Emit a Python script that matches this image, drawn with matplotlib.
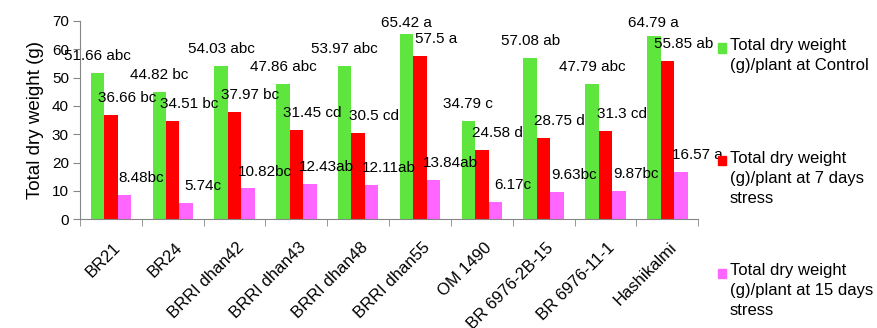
import numpy as np
import matplotlib
matplotlib.use("Agg")
import matplotlib.pyplot as plt
from matplotlib.patches import Rectangle

plt.rcParams['font.family'] = ['Liberation Sans', 'DejaVu Sans']

# data
cultivars = ['BR21', 'BR24', 'BRRI dhan42', 'BRRI dhan43', 'BRRI dhan48',
             'BRRI dhan55', 'OM 1490', 'BR 6976-2B-15', 'BR 6976-11-1', 'Hashikalmi']
control = [51.66, 44.82, 54.03, 47.86, 53.97, 65.42, 34.79, 57.08, 47.79, 64.79]
stress7 = [36.66, 34.51, 37.97, 31.45, 30.5, 57.5, 24.58, 28.75, 31.3, 55.85]
stress15 = [8.48, 5.74, 10.82, 12.43, 12.11, 13.84, 6.17, 9.63, 9.87, 16.57]
control_lab = ['51.66 abc', '44.82 bc', '54.03 abc', '47.86 abc', '53.97 abc',
               '65.42 a', '34.79 c', '57.08 ab', '47.79 abc', '64.79 a']
stress7_lab = ['36.66 bc', '34.51 bc', '37.97 bc', '31.45 cd', '30.5 cd',
               '57.5 a', '24.58 d', '28.75 d', '31.3 cd', '55.85 ab']
stress15_lab = ['8.48bc', '5.74c', '10.82bc', '12.43ab', '12.11ab',
                '13.84ab', '6.17c', '9.63bc', '9.87bc', '16.57 a']
legend_labels = ['Total dry weight\n(g)/plant at Control',
                 'Total dry weight\n(g)/plant at 7 days\nstress',
                 'Total dry weight\n(g)/plant at 15 days\nstress']

colors = ['#5EE63E', '#FF0000', '#FF66FF']
axis_col = '#868686'

fig = plt.figure(figsize=(8.77, 3.28), dpi=100)
ax = fig.add_axes([0.0912, 0.332, 0.705, 0.604])

x = np.arange(len(cultivars))
w = 0.218
series = [control, stress7, stress15]
labels = [control_lab, stress7_lab, stress15_lab]
xshift = [0, 16, 17]  # pixel shift of the data labels

for i, (vals, labs) in enumerate(zip(series, labels)):
    pos = x + (i - 1) * w
    ax.bar(pos, vals, w, color=colors[i], zorder=2)
    for px, v, t in zip(pos, vals, labs):
        ylab = min(v + 6.0, 69.3)
        ax.annotate(t, (px, ylab), xytext=(xshift[i], 0), textcoords='offset pixels',
                    ha='center', va='center', fontsize=11, color='black',
                    annotation_clip=False, zorder=3)

ax.set_xlim(-0.5, len(cultivars) - 0.5)
ax.set_ylim(0, 70)
ax.set_yticks(np.arange(0, 71, 10))
ax.set_xticks(x + 0.03)
ax.set_xticklabels(cultivars, rotation=45, ha='right', va='top',
                   rotation_mode='anchor', fontsize=12)
ax.set_xticks(np.arange(-0.5, len(cultivars), 1), minor=True)
ax.tick_params(axis='x', which='major', length=0, pad=15)
ax.tick_params(axis='x', which='minor', length=5, color=axis_col, direction='out')
ax.tick_params(axis='y', length=5, color=axis_col, direction='out', labelsize=11, pad=3)
for s in ['top', 'right']:
    ax.spines[s].set_visible(False)
for s in ['left', 'bottom']:
    ax.spines[s].set_color(axis_col)
ax.set_ylabel('Total dry weight (g)', fontsize=13.5, labelpad=6)

# legend drawn by hand so the swatch sits on the first text line
leg_y = [48, 161, 273]
for c, lab, yy in zip(colors, legend_labels, leg_y):
    fig.add_artist(Rectangle((718 / 877, 1 - (yy + 4.5) / 328), 8 / 877, 9 / 328,
                             transform=fig.transFigure, color=c))
    fig.text(730 / 877, 1 - (yy - 10) / 328, lab, ha='left', va='top',
             fontsize=12, linespacing=1.4)

fig.savefig('out.png', dpi=100)
